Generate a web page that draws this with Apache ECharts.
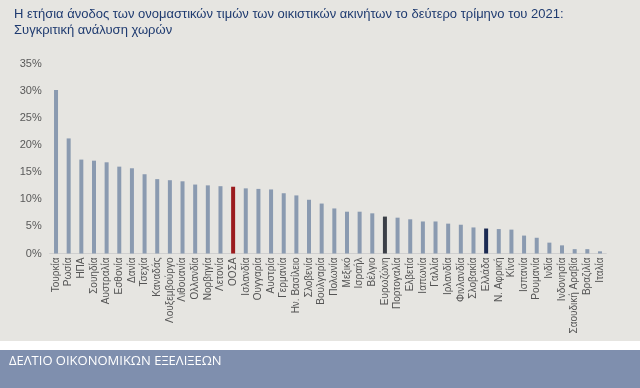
<!DOCTYPE html>
<html>
<head>
<meta charset="utf-8">
<script src="https://cdn.jsdelivr.net/npm/echarts@6/dist/echarts.min.js"></script>
<style>html,body{margin:0;padding:0;background:#fff}#c{width:640px;height:388px}</style>
</head>
<body>
<div id="c"></div>
<script>
const categories = ["Τουρκία","Ρωσία","ΗΠΑ","Σουηδία","Αυστραλία","Εσθονία","Δανία","Τσεχία","Καναδάς","Λουξεμβούργο","Λιθουανία","Ολλανδία","Νορβηγία","Λετονία","ΟΟΣΑ","Ισλανδία","Ουγγαρία","Αυστρία","Γερμανία","Ην. Βασίλειο","Σλοβενία","Βουλγαρία","Πολωνία","Μεξικό","Ισραήλ","Βέλγιο","Ευρωζώνη","Πορτογαλία","Ελβετία","Ιαπωνία","Γαλλία","Ιρλανδία","Φινλανδία","Σλοβακία","Ελλάδα","Ν. Αφρική","Κίνα","Ισπανία","Ρουμανία","Ινδία","Ινδονησία","Σαουδική Αραβία","Βραζιλία","Ιταλία"];
const values = [30.1,21.2,17.3,17.1,16.8,16.0,15.7,14.6,13.7,13.5,13.3,12.7,12.55,12.4,12.3,12.0,11.9,11.8,11.1,10.7,9.9,9.2,8.3,7.7,7.7,7.4,6.8,6.6,6.3,5.9,5.9,5.5,5.3,4.8,4.6,4.5,4.4,3.3,2.9,2.0,1.5,0.8,0.8,0.4];
const highlight = {"ΟΟΣΑ":"#9b1b1e","Ευρωζώνη":"#3b3f47","Ελλάδα":"#1b2a52"};
const yTicks = [0,5,10,15,20,25,30,35];
const titleText = "Η ετήσια άνοδος των ονομαστικών τιμών των οικιστικών ακινήτων το δεύτερο τρίμηνο του 2021:\nΣυγκριτική ανάλυση χωρών";
const bannerText = "ΔΕΛΤΙΟ ΟΙΚΟΝΟΜΙΚΩΝ ΕΞΕΛΙΞΕΩΝ";

const chart = echarts.init(document.getElementById('c'), null, {renderer:'canvas'});
chart.setOption({
  backgroundColor:'#ffffff',
  animation:false,
  graphic:[
    {type:'rect', z:-10, silent:true, shape:{x:0,y:0,width:640,height:341}, style:{fill:'#e6e5e1'}},
    {type:'rect', z:-10, silent:true, shape:{x:0,y:350,width:640,height:38}, style:{fill:'#7f8fae'}},
    {type:'text', z:10, x:9, y:361, silent:true, style:{text:bannerText, fill:'#ffffff', verticalAlign:'middle', align:'left', font:'13px "Open Sans", "Liberation Sans", Arial, sans-serif'}}
  ],
  title:{
    text:titleText, left:9, top:1,
    textStyle:{color:'#1f3b70', fontSize:13, fontWeight:'normal', lineHeight:16.5, fontFamily:'"Liberation Sans Narrow", "Liberation Sans", Arial, sans-serif'}
  },
  grid:{left:49.7, right:33.7, top:63.5, bottom:134.5, containLabel:false},
  xAxis:{
    type:'category', data:categories,
    axisLine:{lineStyle:{color:'#cfcfcf'}},
    axisTick:{show:false},
    axisLabel:{interval:0, rotate:90, fontSize:10, color:'#555555', margin:4, fontFamily:'"Liberation Sans", Arial, sans-serif'}
  },
  yAxis:{
    type:'value', min:0, max:35, interval:5,
    splitLine:{show:false}, axisLine:{show:false}, axisTick:{show:false},
    axisLabel:{formatter:v=>v+'%', fontSize:11, color:'#595959', margin:8, fontFamily:'"Liberation Sans", Arial, sans-serif'}
  },
  series:[{
    type:'bar', barWidth:4,
    data: values.map((v,i)=>({value:v, itemStyle:{color: highlight[categories[i]] || '#8a9ab0'}}))
  }]
});
</script>
</body>
</html>
